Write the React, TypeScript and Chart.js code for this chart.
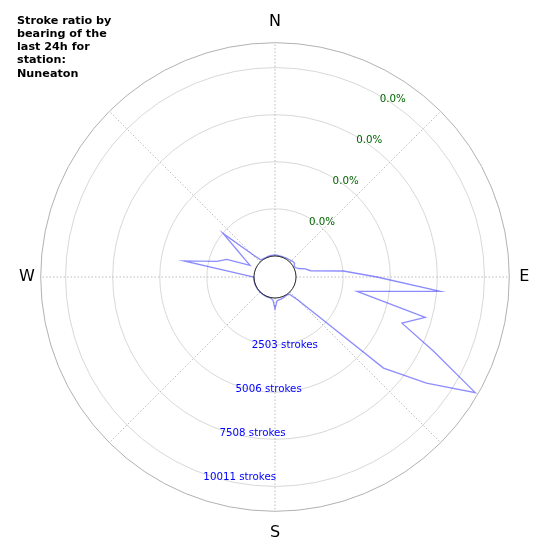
import React, { useEffect, useRef } from 'react';
import { Chart, registerables } from 'chart.js';

Chart.register(...registerables);

// Bearings every 5 degrees, clockwise from North
const bearings: number[] = Array.from({ length: 72 }, (_, i) => i * 5);
const compassLabels: Record<number, string> = { 0: 'N', 90: 'E', 180: 'S', 270: 'W' };

// Stroke counts per 5-degree bearing bin (0, 5, 10, ... 355)
const strokeCounts: number[] = [
  50, 50, 40, 30, 30, 40, 50, 60, 80, 110, 140, 150, // 0-55
  60, 75, 200, 550, 800, 2530, 4300, 7700, 3310, 7150, 6060, 8150, // 60-115
  11170, 8710, 6410, 630, 75, 40, 30, 60, 80, 100, 120, 150, // 120-175
  570, 120, 40, 20, 15, 20, 10, 10, 10, 10, 10, 10, // 180-235
  10, 10, 10, 10, 10, 10, 10, 700, 3790, 2080, 1610, 350, // 240-295
  700, 1290, 2490, 590, 75, 40, 30, 20, 30, 40, 50, 50, // 300-355
];

const strokeTicks: number[] = [2503, 5006, 7508, 10011];
const strokeTickLabels: string[] = ['2503 strokes', '5006 strokes', '7508 strokes', '10011 strokes'];
const ratioTickLabels: string[] = ['0.0%', '0.0%', '0.0%', '0.0%'];
const titleLines: string[] = ['Stroke ratio by', 'bearing of the', 'last 24h for', 'station:', 'Nuneaton'];

const axisMin = -1118;
const axisMax = 11333;

const FONT = '"DejaVu Sans", "Noto Sans", sans-serif';

const overlayPlugin = {
  id: 'overlay',
  beforeDatasetsDraw(chart: any) {
    const s = chart.scales.r;
    const ctx = chart.ctx;
    const r0 = s.getDistanceFromCenterForValue(0);
    ctx.save();
    ctx.beginPath();
    ctx.arc(s.xCenter, s.yCenter, r0, 0, Math.PI * 2);
    ctx.fillStyle = '#ffffff';
    ctx.fill();
    ctx.restore();
  },
  afterDatasetsDraw(chart: any) {
    const s = chart.scales.r;
    const ctx = chart.ctx;
    const r0 = s.getDistanceFromCenterForValue(0);
    ctx.save();
    ctx.beginPath();
    ctx.arc(s.xCenter, s.yCenter, r0, 0, Math.PI * 2);
    ctx.strokeStyle = '#222222';
    ctx.lineWidth = 1;
    ctx.stroke();
    ctx.restore();
  },
  afterDraw(chart: any) {
    const s = chart.scales.r;
    const ctx = chart.ctx;
    const pos = (deg: number, d: number) => {
      const a = (deg * Math.PI) / 180;
      return { x: s.xCenter + d * Math.sin(a), y: s.yCenter - d * Math.cos(a) };
    };
    ctx.save();
    ctx.textAlign = 'left';
    ctx.textBaseline = 'middle';
    ctx.font = `10.25px ${FONT}`;
    strokeTicks.forEach((v, i) => {
      const d = s.getDistanceFromCenterForValue(v);
      const p1 = pos(200, d);
      ctx.fillStyle = '#0000ff';
      ctx.fillText(strokeTickLabels[i], p1.x, p1.y + 4);
      const p2 = pos(30, d);
      ctx.fillStyle = '#006400';
      ctx.fillText(ratioTickLabels[i], p2.x, p2.y + 4);
    });
    ctx.font = `bold 11.2px ${FONT}`;
    ctx.fillStyle = '#000000';
    titleLines.forEach((line, i) => {
      ctx.fillText(line, 17, 20.9 + i * 13.2);
    });
    ctx.restore();
  },
};

export default function App() {
  const canvasRef = useRef<HTMLCanvasElement | null>(null);

  useEffect(() => {
    if (!canvasRef.current) return;
    const chart = new Chart(canvasRef.current, {
      type: 'radar',
      data: {
        labels: bearings.map((b) => compassLabels[b] || ''),
        datasets: [
          {
            data: strokeCounts,
            borderColor: 'rgba(0, 0, 255, 0.45)',
            backgroundColor: 'rgba(0,0,0,0)',
            borderWidth: 1.3,
            pointRadius: 0,
            pointHoverRadius: 0,
            fill: false,
            tension: 0,
          },
        ],
      },
      options: {
        animation: false,
        responsive: false,
        layout: { padding: { left: 9, right: 9, top: 13, bottom: 7 } },
        plugins: {
          legend: { display: false },
          tooltip: { enabled: false },
          title: { display: false },
        },
        scales: {
          r: {
            min: axisMin,
            max: axisMax,
            startAngle: 0,
            afterBuildTicks: (scale: any) => {
              scale.ticks = [...strokeTicks, axisMax].map((v) => ({ value: v }));
            },
            ticks: { display: false },
            grid: {
              circular: true,
              color: (c: any) => (c.tick && c.tick.value === axisMax ? '#a8a8a8' : '#d4d4d4'),
              lineWidth: 0.9,
            },
            angleLines: {
              color: (c: any) => (c.index % 9 === 0 ? '#b4b4b4' : 'rgba(0,0,0,0)'),
              lineWidth: (c: any) => (c.index % 9 === 0 ? 0.9 : 0),
              borderDash: [1.5, 2],
            },
            pointLabels: {
              padding: (c: any) => (c.index === 0 || c.index === 36 ? 11.5 : c.index === 54 ? 6 : 10),
              color: '#000000',
              font: { family: FONT, size: 16 },
            },
          },
        },
      },
      plugins: [overlayPlugin],
    } as any);
    return () => chart.destroy();
  }, []);

  return (
    <div style={{ position: 'absolute', left: 0, top: 0, width: 550, height: 550, background: '#ffffff' }}>
      <canvas ref={canvasRef} width={550} height={550} />
    </div>
  );
}
